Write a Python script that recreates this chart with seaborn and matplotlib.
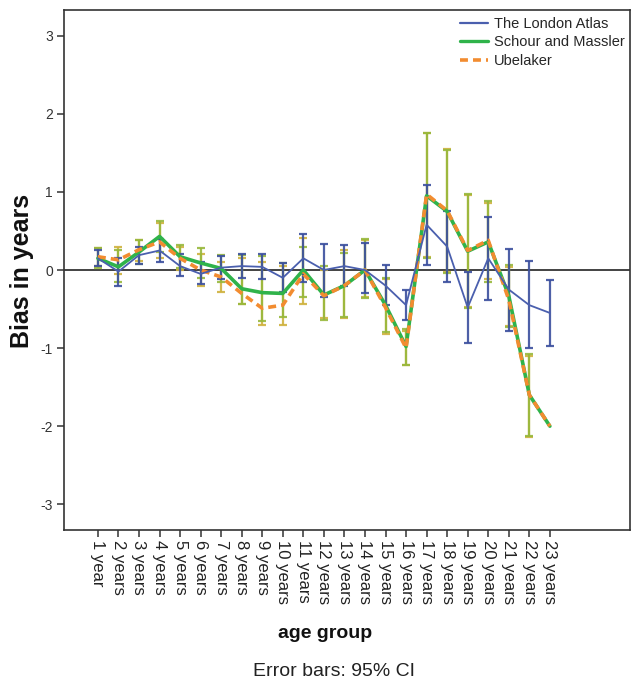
import matplotlib
matplotlib.use("Agg")
import matplotlib.pyplot as plt
from matplotlib.lines import Line2D
import numpy as np
import pandas as pd
import seaborn as sns

# Age groups
age_groups = ["1 year"] + [f"{n} years" for n in range(2, 24)]

# Mean bias (years) per age group and method
london_mean = [0.15, -0.02, 0.19, 0.25, 0.05, -0.05, 0.03, 0.05, 0.04, -0.10, 0.15, 0.00,
               0.05, 0.00, -0.20, -0.45, 0.58, 0.30, -0.48, 0.15, -0.25, -0.45, -0.55]
schour_mean = [0.15, 0.04, 0.23, 0.43, 0.17, 0.09, 0.02, -0.24, -0.29, -0.30, 0.00, -0.32,
               -0.20, 0.00, -0.45, -0.98, 0.95, 0.75, 0.24, 0.36, -0.33, -1.60, -2.00]
ubelaker_mean = [0.17, 0.13, 0.26, 0.36, 0.15, 0.00, -0.09, -0.30, -0.49, -0.45, -0.05, -0.33,
                 -0.20, 0.00, -0.48, -1.00, 0.97, 0.76, 0.25, 0.38, -0.38, -1.60, -2.00]

# 95% confidence limits
london_lo = [0.05, -0.20, 0.08, 0.10, -0.08, -0.18, -0.12, -0.10, -0.12, -0.28, -0.15, -0.35,
             -0.20, -0.30, -0.45, -0.64, 0.07, -0.15, -0.93, -0.38, -0.78, -1.00, -0.97]
london_hi = [0.25, 0.15, 0.30, 0.40, 0.20, 0.10, 0.18, 0.20, 0.20, 0.09, 0.46, 0.33,
             0.32, 0.35, 0.06, -0.26, 1.09, 0.75, -0.03, 0.68, 0.27, 0.11, -0.13]
schour_lo = [0.03, -0.15, 0.08, 0.23, 0.02, -0.10, -0.15, -0.43, -0.65, -0.60, -0.34, -0.64,
             -0.60, -0.36, -0.80, -1.22, 0.15, -0.04, -0.49, -0.16, -0.73, -2.13, np.nan]
schour_hi = [0.28, 0.25, 0.38, 0.63, 0.32, 0.28, 0.19, 0.19, 0.18, 0.09, 0.30, 0.05,
             0.22, 0.40, -0.10, -0.75, 1.75, 1.54, 0.97, 0.88, 0.06, -1.08, np.nan]
ubelaker_lo = [0.05, -0.05, 0.12, 0.15, 0.00, -0.20, -0.28, -0.43, -0.70, -0.70, -0.43, -0.62,
               -0.62, -0.34, -0.82, -1.22, 0.17, -0.02, -0.47, -0.12, -0.72, -2.14, np.nan]
ubelaker_hi = [0.28, 0.30, 0.38, 0.60, 0.30, 0.20, 0.10, 0.15, 0.10, 0.05, 0.41, 0.00,
               0.25, 0.38, -0.12, -0.78, 1.76, 1.55, 0.96, 0.86, 0.04, -1.10, np.nan]

methods = ["The London Atlas", "Schour and Massler", "Ubelaker"]
line_colors = {"The London Atlas": "#4a5fae", "Schour and Massler": "#2fb34a", "Ubelaker": "#f28c30"}
bar_colors = {"The London Atlas": "#3b4f9e", "Schour and Massler": "#98b83c", "Ubelaker": "#cfb23e"}
widths = {"The London Atlas": 1.3, "Schour and Massler": 2.6, "Ubelaker": 2.6}
dash_map = {"The London Atlas": "", "Schour and Massler": "", "Ubelaker": (2.2, 1.4)}

means = {"The London Atlas": london_mean, "Schour and Massler": schour_mean, "Ubelaker": ubelaker_mean}
lows = {"The London Atlas": london_lo, "Schour and Massler": schour_lo, "Ubelaker": ubelaker_lo}
highs = {"The London Atlas": london_hi, "Schour and Massler": schour_hi, "Ubelaker": ubelaker_hi}

rows = []
for m in methods:
    for i, g in enumerate(age_groups):
        rows.append({"pos": i, "age": g, "method": m, "bias": means[m][i]})
df = pd.DataFrame(rows)

sns.set_theme(style="white")
plt.rcParams["font.family"] = ["Liberation Sans", "DejaVu Sans"]

fig = plt.figure(figsize=(6.31, 6.84), dpi=100)
ax = fig.add_axes([64 / 631, 1 - 530 / 684, (630 - 64) / 631, (530 - 10) / 684])

# Confidence interval bars, drawn beneath the mean lines
for m in ["Ubelaker", "Schour and Massler", "The London Atlas"]:
    mu = np.array(means[m], dtype=float)
    lo = np.array(lows[m], dtype=float)
    hi = np.array(highs[m], dtype=float)
    ok = ~np.isnan(lo)
    x = np.arange(len(mu))[ok]
    ax.errorbar(x, mu[ok], yerr=[mu[ok] - lo[ok], hi[ok] - mu[ok]], fmt="none",
                ecolor=bar_colors[m], elinewidth=1.6, capsize=3, capthick=1.6,
                alpha=0.9, zorder=2)

ax.axhline(0, color="#222222", lw=1.2, zorder=1)

sns.lineplot(data=df, x="pos", y="bias", hue="method", hue_order=methods,
             palette=line_colors, size="method", sizes=widths,
             style="method", dashes=dash_map, legend=False, ax=ax, zorder=3)
# keep the thin London line on top
for ln in ax.get_lines():
    if abs(ln.get_linewidth() - widths["The London Atlas"]) < 0.05:
        ln.set_zorder(4)

ax.set_xlim(-1.65, 25.9)
ax.set_ylim(-3.33, 3.33)
ax.set_xticks(range(len(age_groups)))
ax.set_xticklabels(age_groups, rotation=-90, fontsize=12, color="#222222")
ax.set_yticks([-3, -2, -1, 0, 1, 2, 3])
ax.set_yticklabels(["-3", "-2", "-1", "0", "1", "2", "3"], fontsize=10, color="#333333")
ax.tick_params(axis="x", direction="out", length=5, width=1.1, color="#333333", pad=2, bottom=True)
ax.tick_params(axis="y", direction="out", length=5, width=1.1, color="#333333", pad=3, left=True)
ax.set_xlabel("")
ax.set_ylabel("")
for s in ax.spines.values():
    s.set_color("#333333")
    s.set_linewidth(1.2)

fig.text(22 / 631, 1 - 271 / 684, "Bias in years", rotation=90, ha="center", va="center",
         fontsize=18, fontweight="bold", color="#111111")
fig.text(325 / 631, 1 - 633 / 684, "age group", ha="center", va="center",
         fontsize=14, fontweight="bold", color="#111111")
fig.text(334 / 631, 1 - 672 / 684, "Error bars: 95% CI", ha="center", va="center",
         fontsize=14, color="#222222")

handles = [Line2D([], [], color=line_colors[m], lw=widths[m] if m != "Schour and Massler" else 2.4,
                  dashes=dash_map[m] if dash_map[m] else (None, None)) for m in methods]
handles[0].set_linewidth(1.6)
fig.legend(handles, methods, loc="upper left", bbox_to_anchor=(460 / 631, 1 - 17 / 684),
           frameon=False, fontsize=10.5, handlelength=1.9, handletextpad=0.4,
           labelspacing=0.3, borderpad=0, borderaxespad=0)

fig.savefig("out.png", dpi=100)
